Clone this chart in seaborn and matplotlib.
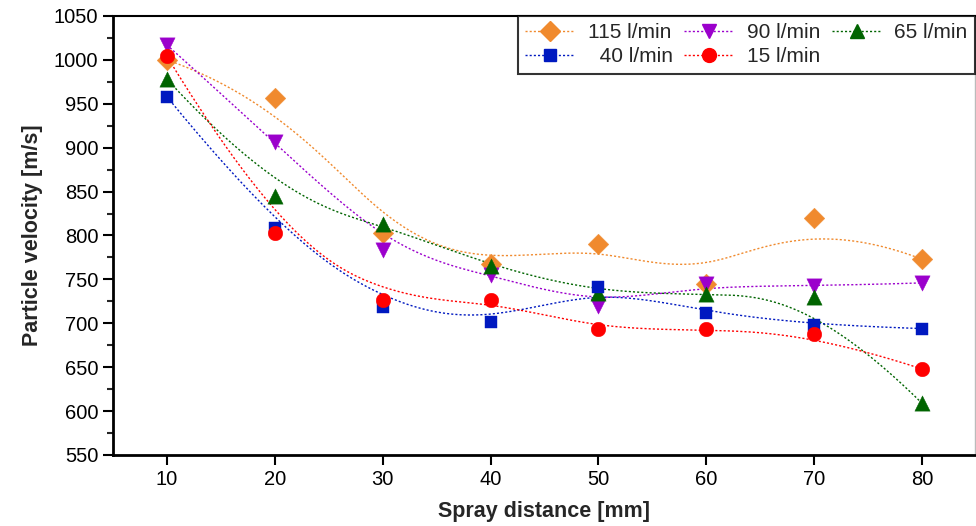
import numpy as np
import pandas as pd
import matplotlib
matplotlib.use("Agg")
import matplotlib.pyplot as plt
from matplotlib.lines import Line2D
from matplotlib.ticker import MultipleLocator
import seaborn as sns

distance = [10, 20, 30, 40, 50, 60, 70, 80]
v115 = [1000, 957, 803, 768, 790, 745, 820, 773]
v90 = [1017, 907, 783, 755, 720, 745, 742, 746]
v65 = [978, 845, 813, 765, 735, 733, 730, 609]
v40 = [958, 808, 718, 701, 741, 712, 698, 694]
v15 = [1004, 803, 726, 726, 693, 693, 688, 648]

labels = ["115 l/min", "90 l/min", "65 l/min", "40 l/min", "15 l/min"]
series = [v115, v90, v65, v40, v15]
colors = ["#F08A2E", "#9B00CC", "#006400", "#0019C0", "#FF0000"]
markers = ["D", "v", "^", "s", "o"]
msizes = [10.5, 11, 11, 8.5, 10.5]


def bspline(px, py, k=3, n=300):
    """Clamped uniform B-spline using the data points as control points."""
    P = np.column_stack([px, py]).astype(float)
    m = len(P)
    inner = np.arange(1, m - k)
    knots = np.concatenate([np.zeros(k + 1), inner, np.full(k + 1, m - k)])
    t = np.linspace(0, m - k, n)
    t[-1] -= 1e-9
    N = np.zeros((n, len(knots) - 1))
    for i in range(len(knots) - 1):
        N[:, i] = ((t >= knots[i]) & (t < knots[i + 1])).astype(float)
    for d in range(1, k + 1):
        Nn = np.zeros((n, len(knots) - 1 - d))
        for i in range(len(knots) - 1 - d):
            a = knots[i + d] - knots[i]
            b = knots[i + d + 1] - knots[i + 1]
            left = (t - knots[i]) / a * N[:, i] if a > 0 else 0
            right = (knots[i + d + 1] - t) / b * N[:, i + 1] if b > 0 else 0
            Nn[:, i] = left + right
        N = Nn
    C = N @ P
    return C[:, 0], C[:, 1]


sns.set_style("ticks")
plt.rcParams["font.family"] = ["Liberation Sans", "DejaVu Sans"]

fig = plt.figure(figsize=(9.76, 5.26), dpi=100)
ax = fig.add_axes([0.1158, 0.135, 0.883, 0.8346])

handles = {}
for lab, vals, c, mk, ms in zip(labels, series, colors, markers, msizes):
    cx, cy = bspline(distance, vals)
    curve = pd.DataFrame({"x": cx, "y": cy})
    sns.lineplot(data=curve, x="x", y="y", ax=ax, color=c, lw=1.0,
                 linestyle=(0, (1.5, 1.5)), sort=False, estimator=None, legend=False)
    pts = pd.DataFrame({"x": distance, "y": vals})
    sns.scatterplot(data=pts, x="x", y="y", ax=ax, color=c, marker=mk,
                    s=ms ** 2, edgecolor=c, linewidth=0.3, zorder=3, legend=False)
    handles[lab] = Line2D([], [], color=c, lw=1.0, linestyle=(0, (1.5, 1.5)),
                          marker=mk, markersize=ms * 0.95, markerfacecolor=c,
                          markeredgecolor=c, label=lab)

ax.set_xlim(5, 84.9)
ax.set_ylim(550, 1050)
ax.set_xticks(distance)
ax.yaxis.set_major_locator(MultipleLocator(50))
ax.yaxis.set_minor_locator(MultipleLocator(25))
ax.tick_params(axis="both", which="major", labelsize=14.5, length=7, width=1.5,
               direction="out", colors="black")
ax.tick_params(axis="y", which="minor", length=4, width=1.5, direction="out")
ax.set_xlabel("Spray distance [mm]", fontsize=15.5, fontweight="bold", labelpad=9)
ax.set_ylabel("Particle velocity [m/s]", fontsize=15.5, fontweight="bold", labelpad=8)

for side in ["left", "bottom"]:
    ax.spines[side].set_linewidth(2.0)
    ax.spines[side].set_color("black")
ax.spines["top"].set_visible(True)
ax.spines["top"].set_linewidth(1.5)
ax.spines["top"].set_color("black")
ax.spines["right"].set_visible(True)
ax.spines["right"].set_linewidth(1.0)
ax.spines["right"].set_color("#BBBBBB")

# column-major order so that rows read 115, 90, 65 / 40, 15
order = ["115 l/min", "40 l/min", "90 l/min", "15 l/min", "65 l/min"]
leg_labels = ["115 l/min", "\u200740 l/min", "90 l/min", "15 l/min", "65 l/min"]
leg = ax.legend([handles[o] for o in order], leg_labels, loc="upper right", ncol=3,
                fontsize=15, frameon=True, fancybox=False, borderaxespad=0.0,
                handlelength=2.4, handletextpad=0.6, columnspacing=0.55,
                borderpad=0.35, labelspacing=0.25)
leg.get_frame().set_edgecolor("black")
leg.get_frame().set_linewidth(1.5)

fig.savefig("out.png", dpi=100)
